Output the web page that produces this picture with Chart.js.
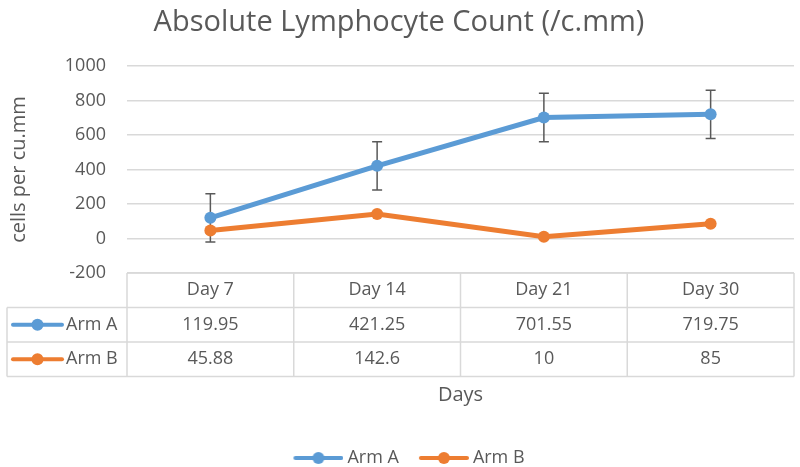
<!DOCTYPE html>
<html><head><meta charset="utf-8">
<script src="https://cdn.jsdelivr.net/npm/chart.js@4/dist/chart.umd.min.js"></script>
<style>html,body{margin:0;padding:0;background:#fff}#wrap{width:800px;height:467px}</style>
</head><body><div id="wrap"><canvas id="c" width="800" height="467"></canvas></div>
<script>
const categories = ['Day 7', 'Day 14', 'Day 21', 'Day 30'];
const seriesNames = ['Arm A', 'Arm B'];
const armA = [119.95, 421.25, 701.55, 719.75];
const armB = [45.88, 142.6, 10, 85];
const armAError = [140, 140, 140, 140];
const armBError = [12, 12, 12, 12];
const yTicks = [-200, 0, 200, 400, 600, 800, 1000];

const BLUE = '#5B9BD5', ORANGE = '#ED7D31', TEXT = '#595959', GRID = '#d9d9d9';
const FONT = "'Open Sans', 'DejaVu Sans', sans-serif";
Chart.defaults.font.family = FONT;
Chart.defaults.color = TEXT;

function makeIcon(color, cw, ch, x0, x1) {
  const cv = document.createElement('canvas');
  cv.width = cw; cv.height = ch;
  const c = cv.getContext('2d');
  c.strokeStyle = color; c.lineWidth = 4; c.lineCap = 'round';
  c.beginPath(); c.moveTo(x0 + 2, ch / 2); c.lineTo(x1 - 2, ch / 2); c.stroke();
  c.fillStyle = color; c.beginPath(); c.arc((x0 + x1) / 2, ch / 2, 6, 0, Math.PI * 2); c.fill();
  return cv;
}
const legendIcons = [makeIcon(BLUE, 75, 16, 25, 75), makeIcon(ORANGE, 75, 16, 25, 75)];

function drawRowIcon(ctx, color, x0, x1, yc) {
  ctx.save();
  ctx.strokeStyle = color; ctx.lineWidth = 4; ctx.lineCap = 'round';
  ctx.beginPath(); ctx.moveTo(x0, yc); ctx.lineTo(x1, yc); ctx.stroke();
  ctx.fillStyle = color; ctx.beginPath(); ctx.arc((x0 + x1) / 2, yc, 6, 0, Math.PI * 2); ctx.fill();
  ctx.restore();
}

const errorBars = {
  id: 'errorBars',
  beforeDatasetsDraw(chart) {
    const {ctx, scales: {x, y}} = chart;
    const sets = [[armA, armAError], [armB, armBError]];
    ctx.save();
    ctx.strokeStyle = TEXT; ctx.lineWidth = 1.5;
    sets.forEach(([vals, errs]) => vals.forEach((v, i) => {
      const px = x.getPixelForValue(i);
      const t = y.getPixelForValue(v + errs[i]);
      const b = y.getPixelForValue(v - errs[i]);
      ctx.beginPath();
      ctx.moveTo(px, t); ctx.lineTo(px, b);
      ctx.moveTo(px - 5, t); ctx.lineTo(px + 5, t);
      ctx.moveTo(px - 5, b); ctx.lineTo(px + 5, b);
      ctx.stroke();
    }));
    ctx.restore();
  }
};

const dataTable = {
  id: 'dataTable',
  afterDraw(chart) {
    const {ctx, chartArea: ca, scales: {x}} = chart;
    const n = categories.length;
    const colW = (ca.right - ca.left) / n;
    const rowH = 34.5;
    const top = ca.bottom;
    const leftEdge = 7;
    const rows = [armA, armB];
    const colors = [BLUE, ORANGE];
    ctx.save();
    ctx.strokeStyle = GRID; ctx.lineWidth = 1.5;
    ctx.beginPath();
    ctx.moveTo(ca.left, top); ctx.lineTo(ca.right, top);
    for (let r = 1; r <= 3; r++) {
      const yy = top + r * rowH;
      ctx.moveTo(leftEdge, yy); ctx.lineTo(ca.right, yy);
    }
    for (let c = 0; c < n; c++) {
      const xx = x.getPixelForValue(c) - colW / 2;
      ctx.moveTo(xx, top); ctx.lineTo(xx, top + 3 * rowH);
    }
    const xr = x.getPixelForValue(n - 1) + colW / 2;
    ctx.moveTo(xr, top); ctx.lineTo(xr, top + 3 * rowH);
    ctx.moveTo(leftEdge, top + rowH); ctx.lineTo(leftEdge, top + 3 * rowH);
    ctx.stroke();

    ctx.fillStyle = TEXT;
    ctx.font = '18px ' + FONT;
    ctx.textBaseline = 'middle';
    ctx.textAlign = 'center';
    categories.forEach((lab, i) => ctx.fillText(lab, x.getPixelForValue(i), top + rowH / 2));
    rows.forEach((vals, r) => {
      const yc = top + (r + 1.5) * rowH;
      vals.forEach((v, i) => ctx.fillText(String(v), x.getPixelForValue(i), yc));
      drawRowIcon(ctx, colors[r], 13, 62, yc);
      ctx.textAlign = 'left';
      ctx.fillText(seriesNames[r], 66, yc);
      ctx.textAlign = 'center';
    });
    ctx.restore();
  }
};

new Chart(document.getElementById('c'), {
  type: 'line',
  data: {
    labels: categories,
    datasets: [
      {label: seriesNames[0], data: armA, borderColor: BLUE, backgroundColor: BLUE,
       borderWidth: 5, pointRadius: 6, pointHoverRadius: 6, pointBorderWidth: 0,
       pointBackgroundColor: BLUE, tension: 0},
      {label: seriesNames[1], data: armB, borderColor: ORANGE, backgroundColor: ORANGE,
       borderWidth: 5, pointRadius: 6, pointHoverRadius: 6, pointBorderWidth: 0,
       pointBackgroundColor: ORANGE, tension: 0}
    ]
  },
  options: {
    responsive: false,
    animation: false,
    devicePixelRatio: 1,
    layout: {padding: {top: 0, left: 0, right: 2, bottom: -10}},
    plugins: {
      title: {display: true, text: 'Absolute Lymphocyte Count (/c.mm)', color: TEXT,
              font: {size: 29, weight: 'normal', family: FONT}, padding: {top: 5, bottom: 26.2}},
      legend: {
        position: 'bottom',
        labels: {
          usePointStyle: true, pointStyleWidth: 65, padding: 0, color: TEXT,
          font: {size: 18, family: FONT},
          generateLabels(chart) {
            return chart.data.datasets.map((ds, i) => ({
              text: ds.label, fillStyle: ds.borderColor, strokeStyle: ds.borderColor,
              lineWidth: 0, pointStyle: legendIcons[i], hidden: false, datasetIndex: i, fontColor: TEXT
            }));
          }
        }
      },
      tooltip: {enabled: false}
    },
    scales: {
      x: {
        type: 'category', offset: true,
        grid: {display: false}, border: {display: false},
        ticks: {display: false},
        title: {display: true, text: 'Days', color: TEXT, font: {size: 20, family: FONT},
                padding: {top: 0, bottom: 42}},
        afterFit(s) { s.height = 176; }
      },
      y: {
        position: 'left', min: -200, max: 1000,
        afterBuildTicks(s) { s.ticks = yTicks.map(v => ({value: v})); },
        ticks: {color: TEXT, font: {size: 18, family: FONT}, padding: 21,
                callback: v => String(v)},
        grid: {color: GRID, lineWidth: 1.5, drawTicks: false},
        border: {display: false},
        title: {display: true, text: 'cells per cu.mm', color: TEXT, font: {size: 20, family: FONT},
                padding: {top: 7, bottom: 0}},
        afterFit(s) { s.width = 127; }
      }
    }
  },
  plugins: [errorBars, dataTable]
});
</script>
</body></html>
